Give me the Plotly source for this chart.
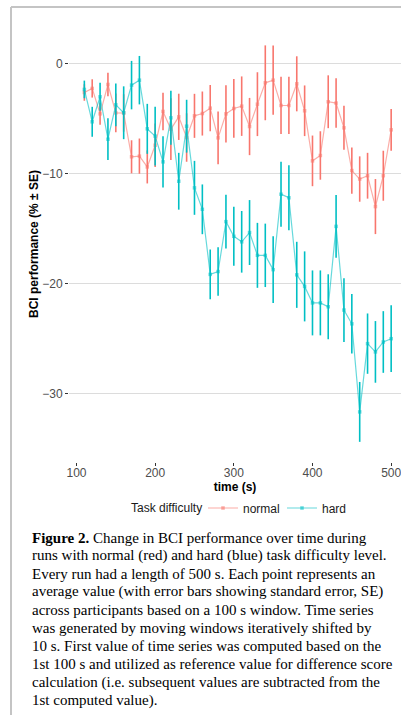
import plotly.graph_objects as go

time_s = [110, 120, 130, 140, 150, 160, 170, 180, 190, 200,
          210, 220, 230, 240, 250, 260, 270, 280, 290, 300,
          310, 320, 330, 340, 350, 360, 370, 380, 390, 400,
          410, 420, 430, 440, 450, 460, 470, 480, 490, 500]

normal_mean = [-2.64, -2.27, -4.58, -1.91, -4.49, -4.50, -8.48, -8.42, -9.40, -7.43,
               -4.36, -5.97, -4.85, -6.73, -4.76, -4.55, -4.06, -6.76, -4.58, -4.09,
               -3.88, -5.73, -3.70, -1.76, -1.52, -3.82, -3.82, -1.85, -4.30, -8.85,
               -8.36, -3.48, -3.60, -5.85, -9.73, -10.50, -10.20, -13.00, -10.20, -6.03]
normal_se = [0.75, 0.83, 1.00, 1.06, 1.75, 1.70, 1.50, 1.60, 1.50, 1.97,
             1.70, 2.80, 2.10, 2.20, 2.00, 2.00, 2.10, 2.40, 2.60, 2.67,
             2.70, 2.60, 2.90, 3.40, 3.15, 2.60, 2.60, 2.50, 2.30, 2.30,
             2.20, 2.40, 2.25, 2.00, 2.10, 2.06, 2.08, 2.50, 2.27, 1.90]

hard_mean = [-2.36, -5.30, -3.03, -6.88, -3.76, -4.48, -1.97, -1.52, -5.94, -6.60,
             -8.94, -4.94, -10.70, -5.70, -11.30, -13.25, -19.16, -18.90, -14.37, -15.70,
             -16.20, -15.36, -17.43, -17.43, -18.73, -11.88, -12.20, -19.20, -20.25, -21.75,
             -21.75, -22.10, -14.80, -22.40, -23.65, -31.65, -25.45, -26.20, -25.30, -25.00]
hard_se = [0.80, 1.36, 1.27, 1.90, 1.94, 2.40, 2.20, 2.20, 2.27, 2.67,
           2.33, 2.45, 2.58, 2.40, 2.45, 2.26, 2.26, 2.20, 2.45, 2.68,
           2.80, 2.95, 2.95, 2.88, 3.03, 2.95, 2.95, 3.00, 3.18, 2.95,
           2.95, 2.95, 2.85, 2.90, 2.70, 2.72, 2.74, 2.80, 2.80, 3.03]

x_ticks = [100, 200, 300, 400, 500]
y_ticks = [0, -10, -20, -30]

caption_lines = [
    "<b>Figure 2.</b> Change in BCI performance over time during",
    "runs with normal (red) and hard (blue) task difficulty level.",
    "Every run had a length of 500 s. Each point represents an",
    "average value (with error bars showing standard error, SE)",
    "across participants based on a 100 s window. Time series",
    "was generated by moving windows iteratively shifted by",
    "10 s. First value of time series was computed based on the",
    "1st 100 s and utilized as reference value for difference score",
    "calculation (i.e. subsequent values are subtracted from the",
    "1st computed value).",
]

W, H = 401, 715
L, R, T, B = 69, 0, 26, 253
PW, PH = W - L - R, H - T - B


def px(xp):
    return (xp - L) / PW


def py(yp):
    return (H - B - yp) / PH


RED = "#F8766D"
BLUE = "#00BFC4"

fig = go.Figure()
for name, mean, se, col, rgba in [
    ("normal", normal_mean, normal_se, RED, "rgba(248,118,109,0.6)"),
    ("hard", hard_mean, hard_se, BLUE, "rgba(0,191,196,0.6)"),
]:
    fig.add_trace(go.Scatter(
        x=time_s, y=mean, name=name, mode="lines+markers",
        line=dict(color=rgba, width=1.2),
        marker=dict(color=rgba, size=3.5, symbol="square"),
        error_y=dict(type="data", array=se, visible=True, color=col,
                     thickness=1.6, width=0),
    ))

fig.update_layout(
    width=W, height=H,
    margin=dict(l=L, r=R, t=T, b=B),
    paper_bgcolor="white", plot_bgcolor="white",
    font=dict(family="Liberation Sans, Arial, sans-serif", size=12, color="#4d4d4d"),
    showlegend=True,
    legend=dict(
        orientation="h", x=px(203), y=py(508), xanchor="left", yanchor="middle",
        font=dict(size=12, color="#1a1a1a"), itemwidth=30,
        entrywidth=34, entrywidthmode="pixels",
        bgcolor="rgba(0,0,0,0)",
    ),
    xaxis=dict(
        range=[90.5, 512.5], tickvals=x_ticks, ticktext=[str(v) for v in x_ticks],
        showgrid=False, zeroline=False, showline=False,
        ticks="outside", ticklen=3, tickcolor="#333333", tickwidth=1,
        tickfont=dict(size=12, color="#4d4d4d"),
        ticklabeloverflow="allow", ticklabelstandoff=-3,
        title=dict(text="<b>time (s)</b>", font=dict(size=12, color="#000000"), standoff=0),
        automargin=False,
    ),
    yaxis=dict(
        range=[-36.2, 3.4], tickvals=y_ticks,
        showgrid=True, gridcolor="#dcdcdc", gridwidth=1, zeroline=False, showline=False,
        ticks="outside", ticklen=3, tickcolor="#333333", tickwidth=1,
        tickfont=dict(size=12, color="#4d4d4d"),
        title=dict(text="<b>BCI performance (% ± SE)</b>", font=dict(size=12, color="#000000"), standoff=1),
        automargin=False,
    ),
)

# legend title
fig.add_annotation(
    text="Task difficulty", xref="paper", yref="paper", x=px(204), y=py(508),
    xanchor="right", yanchor="middle", showarrow=False,
    font=dict(family="Liberation Sans, Arial, sans-serif", size=12, color="#1a1a1a"),
)

# page frame
fig.add_shape(type="line", xref="paper", yref="paper", x0=px(11), x1=px(11), y0=py(7), y1=py(715),
              line=dict(color="#c4c4c4", width=2))
fig.add_shape(type="line", xref="paper", yref="paper", x0=px(11), x1=px(401), y0=py(7), y1=py(7),
              line=dict(color="#c4c4c4", width=2))

for i, line in enumerate(caption_lines):
    fig.add_annotation(
        text=line, xref="paper", yref="paper", x=px(30), y=py(537.5 + 18.1 * i),
        xanchor="left", yanchor="middle", showarrow=False,
        font=dict(family="Liberation Serif, Times New Roman, serif", size=15, color="#000000"),
    )

fig.write_html("out.html")
